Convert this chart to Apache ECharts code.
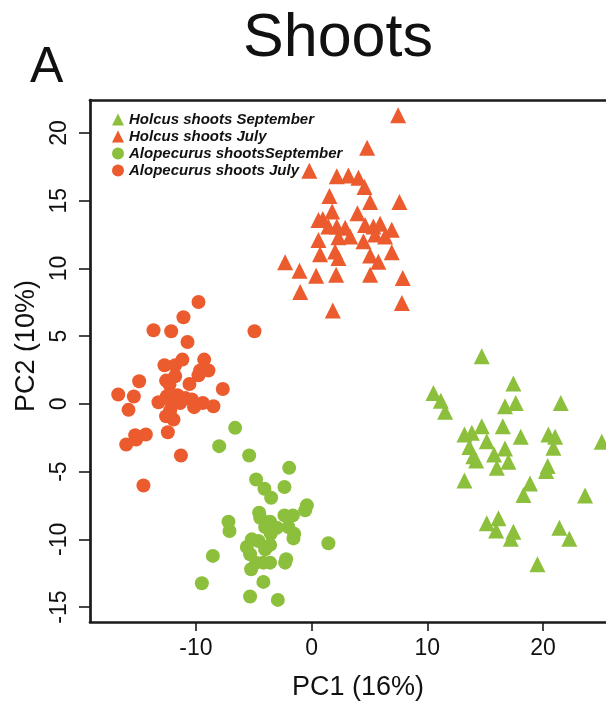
<!DOCTYPE html>
<html>
<head>
<meta charset="utf-8">
<script src="https://cdn.jsdelivr.net/npm/echarts@6/dist/echarts.min.js"></script>
<style>
  html, body { margin: 0; padding: 0; background: #fff; }
  #chart { width: 606px; height: 706px; }
</style>
</head>
<body>
<div id="chart"></div>
<script>
// PCA scores: [PC1, PC2]
const holcusSeptember = [
  [14.71, 3.51], [17.44, 1.5], [10.53, 0.81], [11.17, 0.24], [11.54, -0.59],
  [16.72, -0.17], [17.65, 0.07], [21.54, 0.07], [13.21, -2.26], [13.85, -2.14],
  [14.71, -1.65], [16.53, -1.65], [18.08, -2.43], [20.47, -2.26], [21.05, -2.43],
  [25.08, -2.8], [13.64, -3.19], [15.14, -2.75], [16.72, -3.29], [20.9, -3.24],
  [15.77, -3.73], [13.98, -3.86], [14.22, -4.18], [17.01, -4.27], [16.01, -4.72],
  [20.41, -4.59], [20.27, -4.96], [13.21, -5.65], [18.88, -5.87], [18.31, -6.73],
  [23.64, -6.76], [15.14, -8.82], [16.15, -8.45], [15.95, -9.34], [17.44, -9.43],
  [17.22, -9.95], [21.42, -9.14], [22.28, -9.95], [19.52, -11.84]
];
const holcusJuly = [
  [7.48, 21.3], [4.8, 18.9], [-0.2, 17.2], [2.18, 16.8], [3.18, 16.85],
  [4.05, 16.7], [4.57, 16.0], [1.54, 15.35], [5.06, 14.9], [7.59, 14.9],
  [1.77, 14.2], [3.96, 14.07], [0.97, 13.65], [0.59, 13.58], [2.18, 13.1],
  [1.45, 13.1], [2.9, 13.0], [4.62, 13.2], [5.34, 13.1], [5.92, 13.3],
  [6.93, 12.85], [5.49, 12.5], [6.35, 12.36], [2.32, 12.3], [3.33, 12.36],
  [0.59, 12.1], [4.48, 12.0], [2.03, 11.25], [0.73, 11.05], [2.32, 10.76],
  [5.06, 10.96], [5.77, 10.5], [6.93, 11.2], [-2.29, 10.46], [-1.05, 9.82],
  [0.39, 9.45], [2.12, 9.53], [5.06, 9.53], [7.88, 9.29], [-0.99, 8.25],
  [7.8, 7.44], [1.83, 6.9]
];
const alopecurusSeptember = [
  [-6.61, -1.77], [-7.99, -3.12], [-5.4, -3.81], [-1.94, -4.72], [-4.8, -5.58],
  [-4.08, -6.26], [-2.35, -6.14], [-3.5, -6.93], [-0.41, -7.49], [-0.56, -7.86],
  [-4.54, -8.03], [-4.45, -8.4], [-2.35, -8.23], [-1.62, -8.23], [-7.19, -8.7],
  [-7.1, -9.38], [-3.59, -8.7], [-4.02, -9.09], [-3.01, -9.14], [-2.01, -9.09],
  [-3.53, -9.58], [-1.51, -9.58], [-1.57, -9.93], [-5.17, -10.0], [-4.6, -10.12],
  [-3.59, -10.41], [-5.6, -10.56], [-4.02, -10.74], [1.45, -10.29], [-8.54, -11.22],
  [-5.32, -11.1], [-4.8, -11.72], [-4.17, -11.72], [-3.59, -11.72], [-2.29, -11.72],
  [-2.2, -11.47], [-5.23, -12.21], [-4.17, -13.14], [-9.49, -13.24], [-5.32, -14.22],
  [-2.92, -14.47]
];
const alopecurusJuly = [
  [-9.78, 7.52], [-11.08, 6.39], [-13.67, 5.43], [-12.14, 5.36], [-4.94, 5.36],
  [-10.73, 4.57], [-11.17, 3.27], [-12.72, 2.85], [-11.8, 2.85], [-9.29, 3.27],
  [-9.64, 2.46], [-8.92, 2.46], [-9.78, 2.11], [-11.8, 2.04], [-12.58, 1.72],
  [-12.29, 1.42], [-14.91, 1.67], [-10.56, 1.47], [-7.68, 1.1], [-16.72, 0.69],
  [-15.37, 0.54], [-13.24, 0.12], [-12.51, 0.57], [-11.6, 0.64], [-10.93, 0.44],
  [-10.35, 0.32], [-9.4, 0.07], [-8.49, -0.17], [-10.16, -0.24], [-12.08, 0.07],
  [-11.37, 0.07], [-12.23, -0.49], [-15.83, -0.44], [-12.58, -0.91], [-11.94, -1.16],
  [-12.43, -2.09], [-15.25, -2.31], [-14.33, -2.26], [-15.17, -2.63], [-16.03, -3.0],
  [-11.3, -3.81], [-14.54, -6.02]
];
const xTicks = [-10, 0, 10, 20];
const yTicks = [-15, -10, -5, 0, 5, 10, 15, 20];

const orange = '#EB5B2E';
const green = '#8CBF3B';
const font = 'Liberation Sans, Arial, sans-serif';

const chart = echarts.init(document.getElementById('chart'));

const mkSeries = (name, data, symbol, color, size) => ({
  name,
  type: 'scatter',
  data,
  symbol,
  symbolSize: size,
  itemStyle: { color, opacity: 1 },
  clip: true
});

const axisLine = { onZero: false, lineStyle: { color: '#1a1a1a', width: 2.7 } };
const tickStyle = { color: '#1a1a1a', width: 1.6 };

chart.setOption({
  animation: false,
  backgroundColor: '#fff',
  title: [
    {
      text: 'Shoots',
      left: 333,
      textAlign: 'center',
      top: 4,
      textStyle: { fontFamily: font, fontSize: 61, fontWeight: 'normal', color: '#111' }
    },
    {
      text: 'A',
      left: 25,
      top: 38,
      textStyle: { fontFamily: font, fontSize: 50, fontWeight: 'normal', color: '#111' }
    }
  ],
  legend: {
    orient: 'vertical',
    left: 107,
    top: 107,
    itemWidth: 12,
    itemHeight: 12,
    itemGap: 2,
    textStyle: { fontFamily: font, fontSize: 15, fontStyle: 'italic', fontWeight: 'bold', color: '#111' },
    data: ['Holcus shoots September', 'Holcus shoots July', 'Alopecurus shootsSeptember', 'Alopecurus shoots July']
  },
  grid: {
    left: 90,
    top: 100,
    right: 0,
    bottom: 82
  },
  xAxis: [
    {
      type: 'value',
      min: -19.16,
      max: 25.45,
      name: 'PC1 (16%)',
      nameLocation: 'middle',
      nameGap: 52,
      nameTextStyle: { fontFamily: font, fontSize: 27, color: '#111', padding: [0, 0, 0, 20] },
      axisLine,
      axisTick: { show: true, length: 9, customValues: xTicks, lineStyle: tickStyle },
      axisLabel: { customValues: xTicks, margin: 15, fontFamily: font, fontSize: 23, color: '#111' },
      splitLine: { show: false }
    },
    {
      type: 'value',
      position: 'top',
      min: -19.16,
      max: 25.45,
      axisLine,
      axisTick: { show: false },
      axisLabel: { show: false },
      splitLine: { show: false }
    }
  ],
  yAxis: {
    type: 'value',
    min: -16.1,
    max: 22.43,
    name: 'PC2 (10%)',
    nameLocation: 'middle',
    nameGap: 46,
    nameRotate: 90,
    nameTextStyle: { fontFamily: font, fontSize: 27, color: '#111', padding: [0, 0, 0, 30] },
    axisLine,
    axisTick: { show: true, length: 11, customValues: yTicks, lineStyle: tickStyle },
    axisLabel: { customValues: yTicks, rotate: 90, margin: 19, fontFamily: font, fontSize: 23, color: '#111' },
    splitLine: { show: false }
  },
  series: [
    mkSeries('Holcus shoots September', holcusSeptember, 'triangle', green, 16),
    mkSeries('Holcus shoots July', holcusJuly, 'triangle', orange, 16),
    mkSeries('Alopecurus shootsSeptember', alopecurusSeptember, 'circle', green, 14),
    mkSeries('Alopecurus shoots July', alopecurusJuly, 'circle', orange, 14)
  ]
});
</script>
</body>
</html>
